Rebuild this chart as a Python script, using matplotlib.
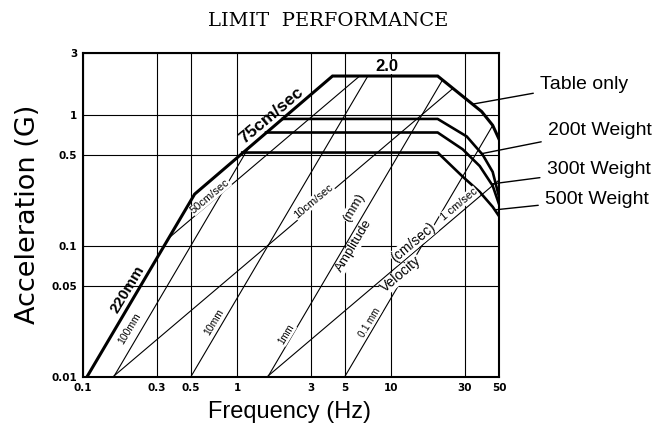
import matplotlib.pyplot as plt

# axis ticks
freq_ticks = [0.1, 0.3, 0.5, 1, 3, 5, 10, 30, 50]
freq_labels = ['0.1', '0.3', '0.5', '1', '3', '5', '10', '30', '50']
acc_ticks = [0.01, 0.05, 0.1, 0.5, 1, 3]
acc_labels = ['0.01', '0.05', '0.1', '0.5', '1', '3']

# performance envelopes (Hz, G)
table_f = [0.106, 0.53, 4.16, 20, 38.6, 45.5, 50]
table_a = [0.01, 0.25, 2.0, 2.0, 1.07, 0.84, 0.66]
w200_f = [1.98, 20, 30.9, 39.2, 45.5, 50]
w200_a = [0.94, 0.94, 0.69, 0.50, 0.37, 0.24]
w300_f = [1.54, 20, 29.1, 37.5, 45.5, 50]
w300_a = [0.74, 0.74, 0.55, 0.41, 0.29, 0.21]
w500_f = [1.08, 20, 29.1, 37.5, 45.5, 50]
w500_a = [0.52, 0.52, 0.34, 0.26, 0.20, 0.17]

# constant amplitude / velocity guide lines: end points (Hz, G)
guide_f = [[0.158, 1.19], [0.5, 7.05], [1.58, 21.3], [4.98, 45.3],
           [0.362, 6.24], [0.156, 25], [1.56, 50]]
guide_a = [[0.01, 0.57], [0.01, 2.0], [0.01, 1.83], [0.01, 0.83],
           [0.116, 2.0], [0.01, 1.6], [0.01, 0.32]]

# labels on the lines: text, freq, accel, angle, size, weight, white box
line_labels = [
    ('220mm', 0.195, 0.047, 59, 11, 'bold', False),
    ('100mm', 0.201, 0.0235, 59, 7.5, 'normal', True),
    ('10mm', 0.711, 0.0261, 59, 7.5, 'normal', True),
    ('1mm', 2.10, 0.0212, 59, 7, 'normal', True),
    ('0.1 mm', 7.21, 0.0261, 59, 7, 'normal', True),
    ('50cm/sec', 0.670, 0.240, 40, 8, 'normal', True),
    ('75cm/sec', 1.66, 1.0, 40, 12.5, 'bold', False),
    ('10cm/sec', 3.14, 0.220, 40, 8, 'normal', True),
    ('2.0', 9.42, 2.37, 0, 12, 'bold', True),
    ('Amplitude', 5.77, 0.101, 59, 9.5, 'normal', True),
    ('(mm)', 5.69, 0.198, 59, 9.5, 'normal', True),
    ('Velocity', 11.6, 0.0608, 40, 10, 'normal', True),
    ('(cm/sec)', 13.9, 0.107, 40, 10, 'normal', True),
    ('1 cm/sec', 27.5, 0.209, 40, 8, 'normal', True),
]

# curve names on the right, arrow tip (Hz, G), text spot (axes fraction)
curve_names = ['Table only', '200t Weight', '300t Weight', '500t Weight']
tip_f = [33.8, 38.6, 45.5, 47.8]
tip_a = [1.22, 0.51, 0.30, 0.19]
name_x = [1.099, 1.118, 1.115, 1.111]
name_y = [0.904, 0.762, 0.639, 0.549]

plt.rcParams['font.family'] = ['Liberation Sans', 'DejaVu Sans']

fig = plt.figure(figsize=(6.67, 4.26), dpi=100)
ax = fig.add_axes([0.1244, 0.115, 0.6237, 0.7606])
ax.set_xscale('log')
ax.set_yscale('log')
ax.set_xlim(0.1, 50)
ax.set_ylim(0.01, 3)

# guide lines
for f, a in zip(guide_f, guide_a):
    ax.plot(f, a, color='black', lw=0.8, zorder=2)

# envelopes
ax.plot(table_f, table_a, color='black', lw=2.2, zorder=3, solid_joinstyle='miter')
for f, a in [(w200_f, w200_a), (w300_f, w300_a), (w500_f, w500_a)]:
    ax.plot(f, a, color='black', lw=1.9, zorder=3, solid_joinstyle='miter')

for txt, f, a, rot, size, wt, boxed in line_labels:
    box = dict(fc='white', ec='none', pad=0.3) if boxed else None
    ax.text(f, a, txt, rotation=rot, fontsize=size, fontweight=wt,
            ha='center', va='center', rotation_mode='anchor', zorder=4,
            bbox=box)

for name, f, a, x, y in zip(curve_names, tip_f, tip_a, name_x, name_y):
    ax.annotate(name, xy=(f, a), xytext=(x, y), textcoords='axes fraction',
                fontsize=14, ha='left', va='center',
                arrowprops=dict(arrowstyle='-', lw=1.0, color='black',
                                shrinkA=3, shrinkB=0))

ax.set_xticks(freq_ticks, freq_labels)
ax.set_yticks(acc_ticks, acc_labels)
ax.minorticks_off()
ax.tick_params(length=0, labelsize=7.5)
ax.tick_params(axis='x', pad=4)
ax.tick_params(axis='y', pad=4)
for lab in ax.get_xticklabels() + ax.get_yticklabels():
    lab.set_fontfamily('DejaVu Sans')
    lab.set_fontweight('bold')
ax.grid(True, color='black', lw=0.8)
ax.set_axisbelow(True)
for s in ax.spines.values():
    s.set_linewidth(1.5)

fig.text(328 / 667, 1 - 21 / 426, 'LIMIT  PERFORMANCE', fontsize=14,
         family='DejaVu Serif', ha='center', va='center')
fig.text(290 / 667, 1 - 412 / 426, 'Frequency (Hz)', fontsize=17,
         ha='center', va='center')
fig.text(28 / 667, 1 - 214 / 426, 'Acceleration (G)', fontsize=19.5,
         family='DejaVu Sans', rotation=90, ha='center', va='center')

fig.savefig('out.png', dpi=100)
